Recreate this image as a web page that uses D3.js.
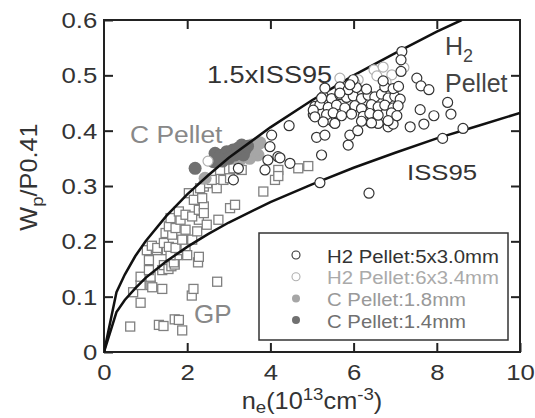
<!DOCTYPE html>
<html>
<head>
<meta charset="utf-8">
<script src="https://d3js.org/d3.v7.min.js"></script>
<style>
  body { margin: 0; background: #fff; }
  text { font-family: "Liberation Sans", Arial, sans-serif; }
</style>
</head>
<body>
<div id="my_dataviz"></div>
<script>

// ---- data ----
var xTicks = [0, 2, 4, 6, 8, 10];
var yTicks = [0, 0.1, 0.2, 0.3, 0.4, 0.5, 0.6];

// scaling curves
var issX   = [0, 0.3, 0.5, 0.75, 1, 1.5, 2, 2.5, 3, 4, 5, 6, 7, 8, 9, 10];
var issY   = [0, 0.072, 0.094, 0.115, 0.134, 0.164, 0.190, 0.213, 0.234, 0.271, 0.303, 0.333, 0.360, 0.386, 0.409, 0.432];
var iss15X = [0, 0.3, 0.5, 0.75, 1, 1.5, 2, 2.5, 3, 4, 5, 6, 7, 8, 8.6];
var iss15Y = [0, 0.108, 0.140, 0.173, 0.200, 0.246, 0.285, 0.319, 0.351, 0.406, 0.455, 0.500, 0.540, 0.579, 0.600];

// GP (gas puff) shots, open squares
var gp = [
  [0.63,0.046],[1.32,0.049],[1.43,0.047],[1.70,0.059],[1.80,0.058],[1.88,0.039],
  [0.70,0.108],[0.88,0.089],[0.88,0.121],[0.88,0.136],[1.12,0.121],[1.12,0.136],[1.16,0.117],[1.40,0.114],
  [2.11,0.102],[2.15,0.114],[2.72,0.127],[2.26,0.162],
  [1.08,0.148],[1.08,0.166],[1.40,0.148],[1.44,0.157],[1.55,0.150],[1.62,0.155],[1.70,0.158],[1.68,0.162],[1.76,0.175],
  [1.03,0.184],[1.27,0.184],[1.51,0.184],[1.88,0.184],[1.15,0.192],[1.60,0.175],
  [1.28,0.188],[1.44,0.197],[1.56,0.190],[1.72,0.188],[1.96,0.188],[2.00,0.175],[2.28,0.172],
  [1.48,0.215],[1.64,0.212],[1.88,0.203],[2.12,0.203],[1.56,0.227],[1.72,0.224],[1.96,0.221],[2.24,0.218],
  [1.60,0.242],[1.84,0.239],[2.28,0.239],[1.80,0.254],[1.96,0.248],[2.12,0.245],[2.28,0.257],[2.40,0.263],[2.40,0.251],
  [2.04,0.287],[2.16,0.275],[2.36,0.278],[2.40,0.299],[2.48,0.305],
  [2.31,0.296],[2.71,0.296],[2.59,0.311],[2.87,0.311],[3.03,0.314],[2.79,0.329],[3.11,0.332],[3.31,0.329],
  [2.47,0.230],[2.75,0.239],[3.03,0.260],[3.15,0.266],
  [3.83,0.290],[4.11,0.311],[4.19,0.329],[4.19,0.318],[4.67,0.332],[4.91,0.336]
];

// H2 pellet 5x3.0mm, dark open circles
var h2a = [
  [7.16,0.543],[7.14,0.528],[7.14,0.507],[7.52,0.495],[7.62,0.481],[7.81,0.474],[8.26,0.451],[8.34,0.430],
  [7.93,0.427],[7.60,0.438],[7.69,0.412],[7.36,0.407],[8.63,0.404],[8.14,0.386],[5.19,0.306],[6.37,0.287],
  [5.23,0.356],[5.87,0.374],[5.91,0.392],[6.10,0.400],[5.11,0.388],[5.31,0.392],[4.45,0.409],[4.03,0.392],
  [3.99,0.371],[3.94,0.347],[4.18,0.353],[4.23,0.351],[4.47,0.341],[3.87,0.329],[3.23,0.332],[3.11,0.311],
  [6.83,0.407],[6.95,0.412],[6.59,0.413],[6.39,0.416],[5.51,0.416],[5.35,0.420],[5.03,0.429],
  [5.27,0.462],[5.47,0.458],[5.67,0.465],[5.83,0.460],[5.99,0.463],[6.19,0.458],[6.35,0.464],[6.51,0.461],
  [6.67,0.466],[6.83,0.459],[6.99,0.462],[7.12,0.457],
  [5.07,0.444],[5.19,0.447],[5.39,0.442],[5.59,0.446],[5.79,0.441],[6.03,0.445],[6.19,0.440],[6.43,0.447],
  [6.59,0.443],[6.75,0.446],[6.95,0.441],[7.07,0.445],
  [5.35,0.429],[5.51,0.432],[5.71,0.427],[5.95,0.430],[6.23,0.426],[6.39,0.431],[6.59,0.428],[6.91,0.432],[7.04,0.427],
  [5.27,0.416],[5.55,0.413],[6.19,0.417],[6.43,0.414],[6.83,0.418],
  [5.31,0.477],[5.67,0.479],[5.87,0.474],[6.07,0.478],[6.31,0.475],[6.75,0.479],[6.95,0.476],[7.08,0.480],
  [5.99,0.492],[6.71,0.490],
  [5.23,0.459],[5.03,0.437],[5.07,0.425],[5.91,0.483],[5.67,0.468]
];

// H2 pellet 6x3.4mm, light open circles
var h2b = [
  [5.67,0.495],[6.11,0.492],[6.49,0.510],[6.71,0.515],[6.92,0.501],[7.21,0.514],[6.78,0.488],
  [5.70,0.470],[6.03,0.486],[6.56,0.499],[2.50,0.345]
];

// C pellet 1.8mm, light filled
var c18 = [
  [2.43,0.314],[3.55,0.374],[3.70,0.356],[3.63,0.365],[3.43,0.359],[3.10,0.353],[3.75,0.378],[3.50,0.350],[3.25,0.345]
];

// C pellet 1.4mm, dark filled
var c14 = [
  [2.19,0.332],[2.63,0.344],[2.67,0.359],[2.80,0.355],[2.95,0.362],[3.10,0.365],[3.15,0.356],[3.31,0.374],
  [3.39,0.365],[3.35,0.356],[2.85,0.345],[3.00,0.350],[3.22,0.368],[3.45,0.372],[2.75,0.350]
];

var legendLabels = ["H2 Pellet:5x3.0mm", "H2 Pellet:6x3.4mm", "C Pellet:1.8mm", "C Pellet:1.4mm"];

// ---- layout ----
var margin = {top: 20, right: 15, bottom: 66, left: 104},
    width = 535 - margin.left - margin.right,
    height = 418 - margin.top - margin.bottom;

var svg = d3.select("#my_dataviz")
  .append("svg")
    .attr("width", width + margin.left + margin.right)
    .attr("height", height + margin.top + margin.bottom)
  .append("g")
    .attr("transform", "translate(" + margin.left + "," + margin.top + ")");

var x = d3.scaleLinear().domain([0, 10]).range([0, width]);
var y = d3.scaleLinear().domain([0, 0.6]).range([height, 0]);

svg.append("clipPath").attr("id", "clip")
  .append("rect").attr("width", width).attr("height", height);

var stretch = 1.12;
var ink = "#333";

// axes, ticks pointing inward
svg.append("g")
  .attr("transform", "translate(0," + height + ")")
  .call(d3.axisBottom(x).tickValues(xTicks).tickSizeInner(-9).tickSizeOuter(0).tickPadding(12));
svg.append("g")
  .call(d3.axisLeft(y).tickValues(yTicks).tickSizeInner(-9).tickSizeOuter(0).tickPadding(6)
    .tickFormat(function(d) { return d === 0 ? "0" : d.toFixed(1); }));
svg.append("g")
  .call(d3.axisTop(x).tickValues([2, 4, 6, 8]).tickSizeInner(-9).tickSizeOuter(0).tickFormat(""));
svg.append("g")
  .attr("transform", "translate(" + width + ",0)")
  .call(d3.axisRight(y).tickValues([0.1, 0.2, 0.3, 0.4, 0.5]).tickSizeInner(-9).tickSizeOuter(0).tickFormat(""));

svg.selectAll(".domain").remove();
svg.selectAll(".tick line").attr("stroke", "#222").attr("stroke-width", 2);
svg.selectAll(".tick text")
  .attr("fill", ink)
  .style("font-size", "23px")
  .attr("transform", "scale(" + stretch + ",1)");

// frame
svg.append("rect")
  .attr("width", width).attr("height", height)
  .attr("fill", "none").attr("stroke", "#222").attr("stroke-width", 2);

var plot = svg.append("g").attr("clip-path", "url(#clip)");

// GP squares
var sq = 9;
plot.selectAll("rect.gp")
  .data(gp)
  .enter().append("rect")
    .attr("class", "gp")
    .attr("x", function(d) { return x(d[0]) - sq / 2; })
    .attr("y", function(d) { return y(d[1]) - sq / 2; })
    .attr("width", sq).attr("height", sq)
    .attr("fill", "#fff").attr("stroke", "#808080").attr("stroke-width", 1.3);

// C pellets
plot.selectAll("circle.c18")
  .data(c18)
  .enter().append("circle")
    .attr("cx", function(d) { return x(d[0]); })
    .attr("cy", function(d) { return y(d[1]); })
    .attr("r", 6.5).attr("fill", "#a6a6a6");
plot.selectAll("circle.c14")
  .data(c14)
  .enter().append("circle")
    .attr("cx", function(d) { return x(d[0]); })
    .attr("cy", function(d) { return y(d[1]); })
    .attr("r", 6.5).attr("fill", "#707070");

// scaling curves
var line = d3.line()
  .x(function(d) { return x(d[0]); })
  .y(function(d) { return y(d[1]); });
plot.append("path")
  .datum(d3.zip(issX, issY))
  .attr("d", line).attr("fill", "none").attr("stroke", "#111").attr("stroke-width", 2.5);
plot.append("path")
  .datum(d3.zip(iss15X, iss15Y))
  .attr("d", line).attr("fill", "none").attr("stroke", "#111").attr("stroke-width", 2.5);

// H2 pellets
plot.selectAll("circle.h2b")
  .data(h2b)
  .enter().append("circle")
    .attr("cx", function(d) { return x(d[0]); })
    .attr("cy", function(d) { return y(d[1]); })
    .attr("r", 5).attr("fill", "#fff").attr("stroke", "#b0b0b0").attr("stroke-width", 1.2);
plot.selectAll("circle.h2a")
  .data(h2a)
  .enter().append("circle")
    .attr("cx", function(d) { return x(d[0]); })
    .attr("cy", function(d) { return y(d[1]); })
    .attr("r", 5).attr("fill", "#fff").attr("stroke", "#333").attr("stroke-width", 1.2);

// annotations (page coords)
var page = d3.select("svg");
function note(px, py, txt, size, color, sx) {
  return page.append("text")
    .attr("transform", "translate(" + px + "," + py + ") scale(" + (sx || stretch) + ",1)")
    .style("font-size", size + "px")
    .attr("fill", color)
    .text(txt);
}
note(207, 83, "1.5xISS95", 23, ink, 1.18);
note(407, 180, "ISS95", 23, ink);
note(130, 143, "C Pellet", 24, "#888", 1.1);
note(194, 323, "GP", 26, "#888", 1.0);
var h2 = note(445, 55, "H", 25, "#444", 1.0);
h2.append("tspan").attr("dy", 7).style("font-size", "18px").text("2");
note(445, 92, "Pellet", 25, "#444", 1.0);

// legend
var lg = page.append("g");
lg.append("rect")
  .attr("x", 259).attr("y", 233).attr("width", 249).attr("height", 107)
  .attr("fill", "#fff").attr("stroke", "#333").attr("stroke-width", 1.5);
var lgStyle = [
  {fill: "#fff", stroke: "#333", text: "#333"},
  {fill: "#fff", stroke: "#b0b0b0", text: "#aaa"},
  {fill: "#a6a6a6", stroke: "none", text: "#999"},
  {fill: "#707070", stroke: "none", text: "#707070"}
];
legendLabels.forEach(function(l, i) {
  var cy = 255 + i * 21.7;
  lg.append("circle")
    .attr("cx", 296).attr("cy", cy).attr("r", 4)
    .attr("fill", lgStyle[i].fill).attr("stroke", lgStyle[i].stroke).attr("stroke-width", 1.1);
  lg.append("text")
    .attr("transform", "translate(327," + (cy + 7.5) + ") scale(1.1,1)")
    .style("font-size", "18.5px")
    .attr("fill", lgStyle[i].text)
    .text(l);
});

// axis titles
var yl = page.append("text")
  .attr("transform", "translate(37,177) rotate(-90) scale(1.1,1)")
  .attr("text-anchor", "middle")
  .style("font-size", "23px").attr("fill", ink);
yl.append("tspan").text("W");
yl.append("tspan").attr("dy", 6).style("font-size", "17px").text("p");
yl.append("tspan").attr("dy", -6).text("/P0.41");

var xl = page.append("text")
  .attr("transform", "translate(312,409) scale(1.1,1)")
  .attr("text-anchor", "middle")
  .style("font-size", "23px").attr("fill", ink);
xl.append("tspan").text("n");
xl.append("tspan").attr("dy", 4).style("font-size", "17px").text("e");
xl.append("tspan").attr("dy", -4).text("(10");
xl.append("tspan").attr("dy", -9).style("font-size", "17px").text("13");
xl.append("tspan").attr("dy", 9).text("cm");
xl.append("tspan").attr("dy", -9).style("font-size", "17px").text("-3");
xl.append("tspan").attr("dy", 9).text(")");

</script>
</body>
</html>
